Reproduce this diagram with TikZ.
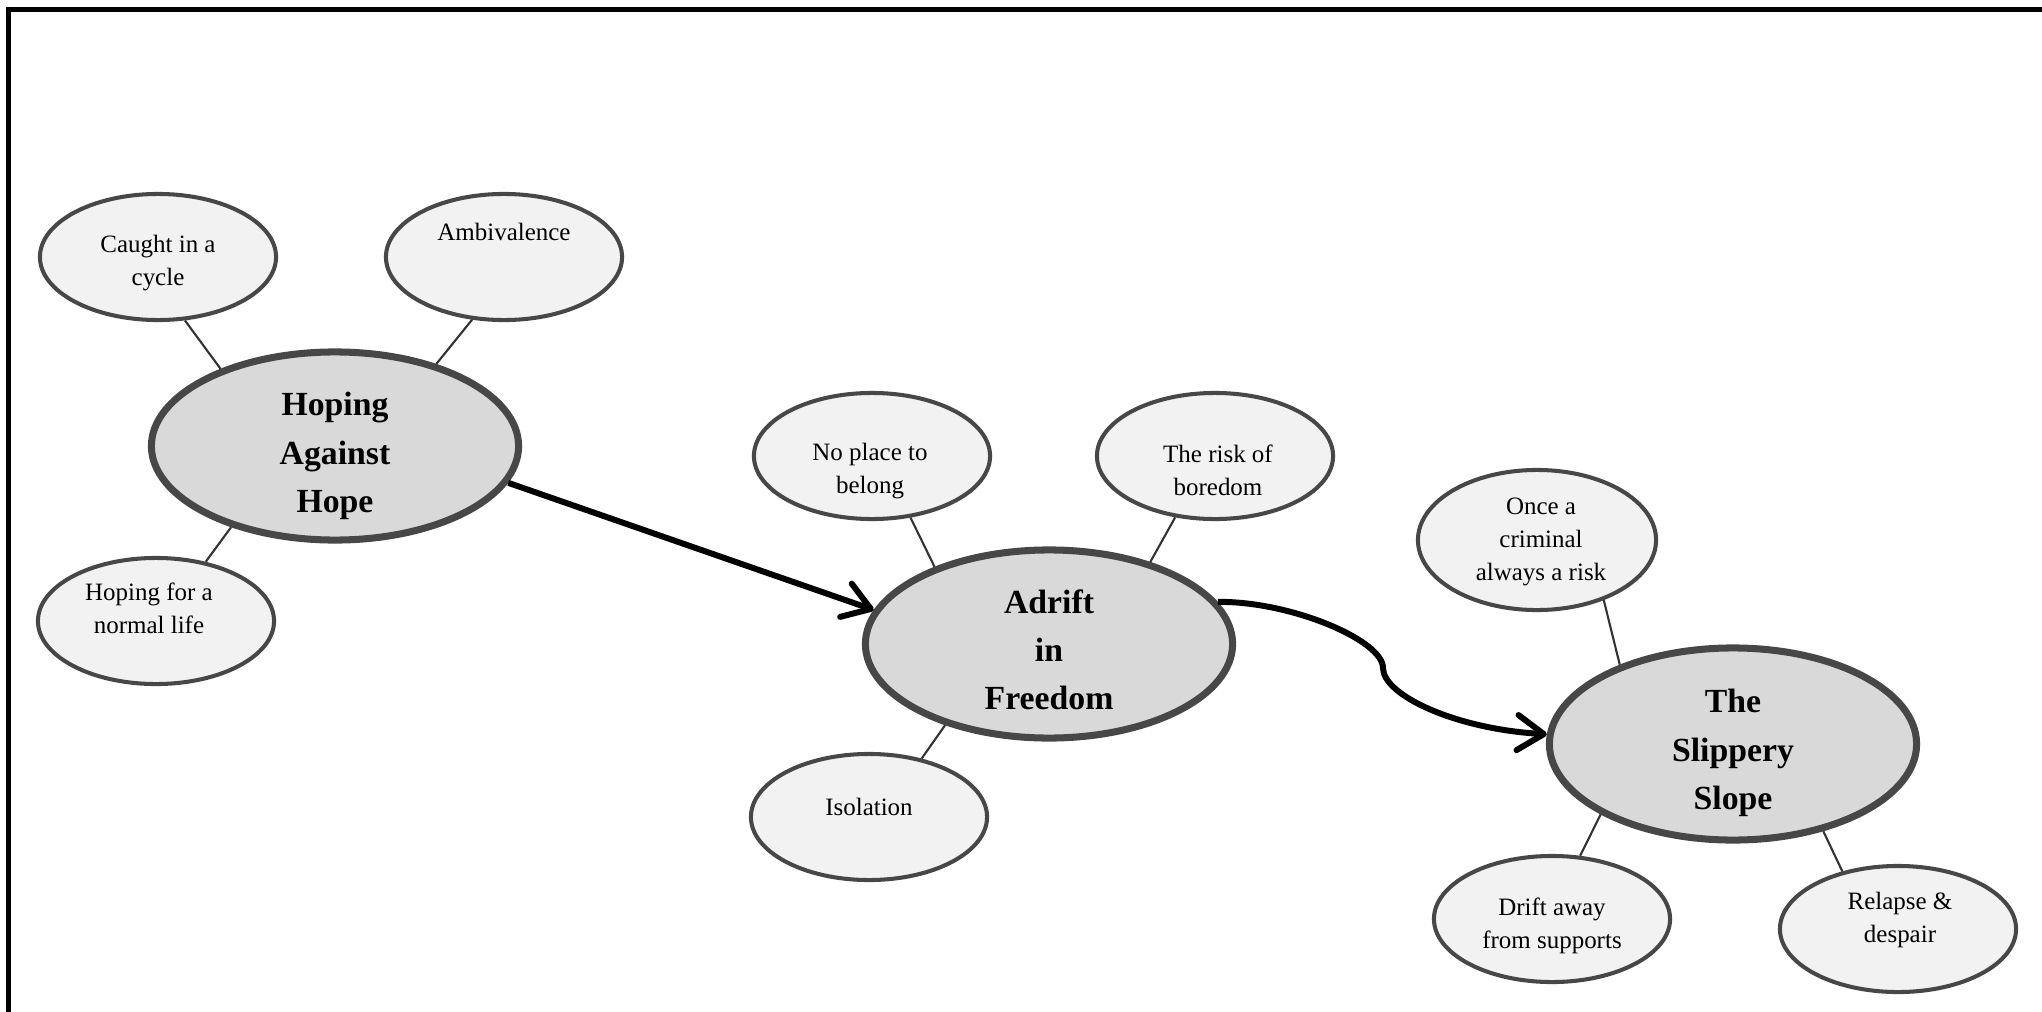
\documentclass[tikz,border=0pt]{standalone}
\usepackage{fontspec}
\setmainfont{Liberation Serif}
\usetikzlibrary{shapes.geometric,arrows.meta,calc}
\definecolor{smallfill}{HTML}{F2F2F2}
\definecolor{mainfill}{HTML}{D9D9D9}
\definecolor{rim}{HTML}{474747}
\definecolor{linkcol}{HTML}{333333}
\begin{document}
\begin{tikzpicture}[x=0.01cm,y=-0.01cm,
  bigbub/.style={ellipse,draw=rim,fill=mainfill,line width=2pt,minimum width=3.67cm,minimum height=1.88cm,inner sep=0pt},
  smallbub/.style={ellipse,draw=rim,fill=smallfill,line width=1.15pt,minimum width=2.36cm,minimum height=1.26cm,inner sep=0pt},
  bigtxt/.style={align=center,font=\fontsize{9.6}{13.7}\selectfont\bfseries,inner sep=0pt},
  smalltxt/.style={align=center,font=\fontsize{7.1}{9.4}\selectfont,inner sep=0pt},
  link/.style={draw=linkcol,line width=0.6pt},
  flow/.style={draw=black,line width=1.7pt,-{Straight Barb[length=7.5pt,width=10pt,round]}},
  frame/.style={draw=black,line width=1.45pt}
]
\useasboundingbox (0,0) rectangle (2042,1012);
\clip (0,0) rectangle (2042,1012);
\fill[white] (0,0) rectangle (2042,1012);
% frame (cut at right and bottom)
\coordinate (fbl) at (8.5,1030);
\coordinate (ftl) at (8.5,9.8);
\coordinate (ftr) at (2060,9.8);
\draw[frame] (fbl) -- (ftl) -- (ftr);

% main bubbles
\node[bigbub] (hope) at (335,446) {};
\node[bigbub] (adrift) at (1049,644) {};
\node[bigbub,minimum height=1.92cm] (slip) at (1733,744) {};
\node[bigtxt] (thope) at ($(hope)+(0,10)$) {Hoping\\Against\\Hope};
\node[bigtxt] (tadrift) at ($(adrift)+(0,6)$) {Adrift\\in\\Freedom};
\node[bigtxt] (tslip) at ($(slip)+(0,9)$) {The\\Slippery\\Slope};

% small bubbles
\node[smallbub] (caught) at (158,257) {};
\node[smallbub] (amb) at (504,257) {};
\node[smallbub] (normal) at (156,621) {};
\node[smallbub] (noplace) at (872,456) {};
\node[smallbub] (risk) at (1215,456) {};
\node[smallbub] (iso) at (869,817) {};
\node[smallbub,minimum width=2.38cm,minimum height=1.40cm] (once) at (1537,540) {};
\node[smallbub] (drift) at (1552,919) {};
\node[smallbub] (relapse) at (1898,929) {};

\node[smalltxt] (tcaught) at ($(caught)+(0,6)$) {Caught in a\\cycle};
\node[smalltxt] (tamb) at ($(amb)+(0,-25)$) {Ambivalence};
\node[smalltxt] (tnormal) at ($(normal)+(-7,-13)$) {Hoping for a\\normal life};
\node[smalltxt] (tnoplace) at ($(noplace)+(-2,15)$) {No place to\\belong};
\node[smalltxt] (trisk) at ($(risk)+(3,14)$) {The risk of\\boredom};
\node[smalltxt] (tiso) at ($(iso)+(0,-10)$) {Isolation};
\node[smalltxt] (tonce) at ($(once)+(4,2)$) {Once a\\criminal\\always a risk};
\node[smalltxt] (tdrift) at ($(drift)+(0,7)$) {Drift away\\from supports};
\node[smalltxt] (trelapse) at ($(relapse)+(2,-9)$) {Relapse \&\\despair};

% links
\draw[link] (caught.-67.5) -- (hope.146);
\draw[link] (amb.-117.6) -- (hope.39);
\draw[link] (normal.50) -- (hope.218.8);
\draw[link] (noplace.-58.8) -- (adrift.146);
\draw[link] (risk.-123) -- (adrift.39.6);
\draw[link] (iso.48) -- (adrift.218);
\draw[link] (once.-42.8) -- (slip.145);
\draw[link] (drift.66.7) -- (slip.208);
\draw[link] (relapse.134.5) -- (slip.-44.4);

% flow arrows
\draw[flow] (hope.-12) -- (adrift.169);
\coordinate (bend) at (1383,668);
\draw[flow] (adrift.14) .. controls (1290,601) and (1383,640) .. (bend)
  .. controls (1383,695) and (1455,729) .. (slip.177);
\end{tikzpicture}
\end{document}
